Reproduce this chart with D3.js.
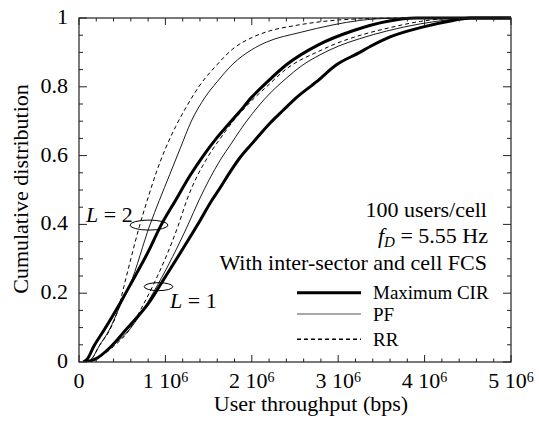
<!DOCTYPE html>
<html><head><meta charset="utf-8">
<script src="https://cdn.jsdelivr.net/npm/d3@7"></script>
<style>body{margin:0;background:#fff}svg{display:block}</style>
</head><body><svg id="c" width="539" height="421" font-family="'Liberation Serif', 'Times New Roman', Times, 'DejaVu Serif', serif"></svg>
<script>
// throughput in Mbps (x 1e6 bps), cumulative distribution
const xTicks = [0, 1, 2, 3, 4, 5];
const xTickLabels = ["0", "1 10|6", "2 10|6", "3 10|6", "4 10|6", "5 10|6"];
const yTicks = [0, 0.2, 0.4, 0.6, 0.8, 1];
const yTickLabels = ["0", "0.2", "0.4", "0.6", "0.8", "1"];
const seriesNames = ["Maximum CIR", "PF", "RR"];

const L2_RR = [[0.08,0],[0.15,0.01],[0.23,0.045],[0.37,0.1],[0.45,0.15],[0.52,0.22],[0.6,0.3],[0.7,0.395],[0.79,0.47],[0.9,0.555],[1.0,0.62],[1.12,0.685],[1.25,0.745],[1.4,0.805],[1.6,0.865],[1.78,0.91],[2.0,0.943],[2.2,0.962],[2.5,0.978],[2.9,0.992],[3.3,0.998],[3.8,1],[5,1]];
const L2_PF = [[0.08,0],[0.15,0.01],[0.23,0.045],[0.35,0.093],[0.47,0.16],[0.59,0.224],[0.82,0.398],[0.93,0.47],[1.05,0.545],[1.17,0.62],[1.3,0.7],[1.46,0.77],[1.6,0.815],[1.78,0.866],[2.0,0.908],[2.17,0.93],[2.56,0.958],[2.94,0.98],[3.25,0.993],[3.6,0.999],[4.0,1],[5,1]];
const L2_CIR = [[0.05,0],[0.1,0.01],[0.17,0.045],[0.29,0.093],[0.45,0.16],[0.61,0.232],[0.8,0.32],[0.95,0.398],[1.12,0.471],[1.28,0.54],[1.44,0.6],[1.59,0.65],[1.72,0.688],[1.85,0.725],[2.0,0.77],[2.17,0.812],[2.4,0.864],[2.77,0.922],[3.17,0.963],[3.56,0.99],[3.9,1],[5,1]];
const L1_RR = [[0.1,0],[0.22,0.012],[0.4,0.045],[0.6,0.1],[0.73,0.16],[0.86,0.224],[1.15,0.398],[1.25,0.472],[1.5,0.6],[1.63,0.648],[1.8,0.705],[2.0,0.76],[2.17,0.8],[2.4,0.852],[2.79,0.905],[2.94,0.922],[3.3,0.953],[3.6,0.972],[3.95,0.99],[4.4,1],[5,1]];
const L1_PF = [[0.08,0],[0.2,0.01],[0.35,0.04],[0.58,0.093],[0.91,0.224],[1.26,0.398],[1.39,0.471],[1.63,0.585],[1.77,0.638],[1.86,0.672],[2.15,0.765],[2.4,0.825],[2.56,0.858],[2.79,0.893],[3.0,0.918],[3.25,0.94],[3.56,0.962],[3.95,0.983],[4.33,0.996],[4.6,1],[5,1]];
const L1_CIR = [[0.08,0],[0.2,0.01],[0.35,0.04],[0.54,0.093],[0.83,0.18],[0.94,0.224],[1.37,0.398],[1.54,0.471],[1.63,0.505],[1.74,0.549],[1.86,0.593],[2.01,0.637],[2.21,0.694],[2.36,0.731],[2.5,0.765],[2.75,0.815],[2.98,0.864],[3.25,0.9],[3.37,0.917],[3.6,0.945],[3.95,0.972],[4.33,0.993],[4.53,1],[5,1]];

const m = {l:79, r:511, t:18, b:362};
const svg = d3.select("#c");
const x = d3.scaleLinear().domain([0,5]).range([m.l, m.r]);
const y = d3.scaleLinear().domain([0,1]).range([m.b, m.t]);

svg.append("defs").append("clipPath").attr("id","clip")
  .append("rect").attr("x",m.l).attr("y",m.t-2).attr("width",m.r-m.l).attr("height",m.b-m.t+2);

const line = d3.line().x(d=>x(d[0])).y(d=>y(d[1])).curve(d3.curveMonotoneX);
const styles = {
  "Maximum CIR": {w:3, dash:null},
  "PF": {w:0.9, dash:null},
  "RR": {w:1, dash:"4,3"}
};
const curves = [
  [L2_RR,"RR"],[L2_PF,"PF"],[L2_CIR,"Maximum CIR"],
  [L1_RR,"RR"],[L1_PF,"PF"],[L1_CIR,"Maximum CIR"]
];
const g = svg.append("g").attr("clip-path","url(#clip)");
curves.forEach(([d,n])=>{
  g.append("path").attr("d",line(d)).attr("fill","none").attr("stroke","#000")
   .attr("stroke-width",styles[n].w).attr("stroke-dasharray",styles[n].dash);
});

// frame
svg.append("rect").attr("x",m.l).attr("y",m.t).attr("width",m.r-m.l).attr("height",m.b-m.t)
  .attr("fill","none").attr("stroke","#222").attr("stroke-width",1.2);

// ticks (inward, all four sides)
const xMinor = d3.range(0,5.001,0.2);
const yMinor = d3.range(0,1.0001,0.05);
const tk = svg.append("g").attr("stroke","#222").attr("stroke-width",1);
xMinor.forEach(v=>{
  const major = Math.abs(v-Math.round(v))<1e-6;
  const len = major?7:3.5;
  tk.append("line").attr("x1",x(v)).attr("x2",x(v)).attr("y1",m.b).attr("y2",m.b-len);
  tk.append("line").attr("x1",x(v)).attr("x2",x(v)).attr("y1",m.t).attr("y2",m.t+len);
});
yMinor.forEach(v=>{
  const major = Math.abs(v*5-Math.round(v*5))<1e-6;
  const len = major?8:4;
  tk.append("line").attr("y1",y(v)).attr("y2",y(v)).attr("x1",m.l).attr("x2",m.l+len);
  tk.append("line").attr("y1",y(v)).attr("y2",y(v)).attr("x1",m.r).attr("x2",m.r-len);
});

// tick labels
const FS = 22;
yTicks.forEach((v,i)=>{
  svg.append("text").attr("x",m.l-11).attr("y",y(v)+6).attr("text-anchor","end")
    .attr("font-size",FS).text(yTickLabels[i]);
});
xTicks.forEach((v,i)=>{
  const parts = xTickLabels[i].split("|");
  const t = svg.append("text").attr("x",x(v)).attr("y",387.5).attr("text-anchor","middle").attr("font-size",FS);
  t.append("tspan").text(parts[0]);
  if(parts[1]) t.append("tspan").attr("dy",-6).attr("font-size",14).text(parts[1]);
});

// axis titles
svg.append("text").attr("x",311).attr("y",411).attr("text-anchor","middle").attr("font-size",FS)
  .text("User throughput (bps)");
svg.append("text").attr("transform","translate(28,189) rotate(-90)").attr("text-anchor","middle")
  .attr("font-size",FS).text("Cumulative distribution");

// annotations
svg.append("text").attr("x",487).attr("y",217).attr("text-anchor","end").attr("font-size",FS).text("100 users/cell");
const fd = svg.append("text").attr("x",488).attr("y",243).attr("text-anchor","end").attr("font-size",FS);
fd.append("tspan").attr("font-style","italic").text("f");
fd.append("tspan").attr("font-style","italic").attr("font-size",15).attr("dy",4).text("D");
fd.append("tspan").attr("dy",-4).text(" = 5.55 Hz");
svg.append("text").attr("x",487).attr("y",270).attr("text-anchor","end").attr("font-size",FS).text("With inter-sector and cell FCS");

// L labels and ellipses
const l2 = svg.append("text").attr("x",86).attr("y",222).attr("font-size",FS);
l2.append("tspan").attr("font-style","italic").text("L");
l2.append("tspan").text(" = 2");
const l1 = svg.append("text").attr("x",170).attr("y",308).attr("font-size",FS);
l1.append("tspan").attr("font-style","italic").text("L");
l1.append("tspan").text(" = 1");
svg.append("ellipse").attr("cx",x(0.81)).attr("cy",y(0.398)).attr("rx",19).attr("ry",5)
  .attr("fill","none").attr("stroke","#000").attr("stroke-width",1);
svg.append("ellipse").attr("cx",x(0.92)).attr("cy",y(0.219)).attr("rx",14.3).attr("ry",4)
  .attr("fill","none").attr("stroke","#000").attr("stroke-width",1);

// legend
seriesNames.forEach((n,i)=>{
  const yy = [292.7,314,339.3][i];
  svg.append("line").attr("x1",297).attr("x2",361).attr("y1",yy).attr("y2",yy)
    .attr("stroke",n==="PF"?"#555":"#000").attr("stroke-width",n==="Maximum CIR"?3:(n==="PF"?1.2:1.5))
    .attr("stroke-dasharray",n==="RR"?"4,3":null);
  svg.append("text").attr("x",373).attr("y",yy+6.5).attr("font-size",19).text(n);
});
</script></body></html>
